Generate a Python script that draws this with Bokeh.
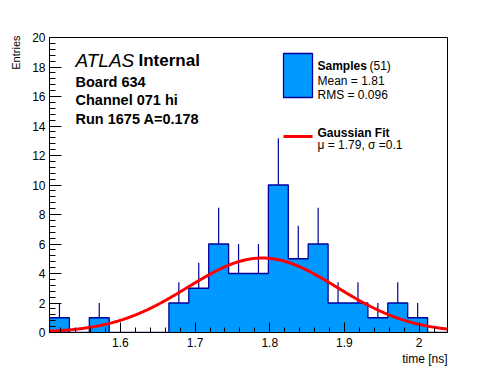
import numpy as np
from bokeh.plotting import figure
from bokeh.models import Range1d, SingleIntervalTicker, NumeralTickFormatter, Label, Title
from bokeh.embed import file_html
from bokeh.resources import INLINE

# ---------------- data ----------------
x_lo, x_hi = 1.505, 2.038          # histogram range (ns)
n_bins = 20
counts = [1, 0, 1, 0, 0, 0, 2, 3, 6, 4, 4, 10, 5, 6, 2, 2, 1, 2, 1, 0]
n_entries = 51
mean_txt = "1.81"
rms_txt = "0.096"
fit_mu = 1.79
fit_sigma = 0.1
fit_amp = 5.05
y_lo, y_hi = 0, 20

info_lines = ["Board 634", "Channel 071 hi", "Run 1675 A=0.178"]

# ---------------- styling ----------------
FONT = "Liberation Sans"
FILL = "#0099ff"
EDGE = "#000099"

W, H = 496, 372
BL, BR, BT, BB = 49, 49, 37, 40
FW, FH = W - BL - BR, H - BT - BB

p = figure(width=W, height=H, x_range=Range1d(x_lo, x_hi), y_range=Range1d(y_lo, y_hi),
           output_backend="svg", toolbar_location=None,
           min_border_left=BL, min_border_right=BR, min_border_top=BT, min_border_bottom=BB)
p.xgrid.visible = False
p.ygrid.visible = False
p.outline_line_color = "black"
p.outline_line_width = 1
p.background_fill_color = "white"
p.border_fill_color = "white"

# axes
xa = p.xaxis[0]
xa.ticker = SingleIntervalTicker(interval=0.1, num_minor_ticks=5)
xa.formatter = NumeralTickFormatter(format="0.[0]")
xa.major_tick_in = 10
xa.major_tick_out = 0
xa.minor_tick_in = 5
xa.minor_tick_out = 0
xa.major_label_standoff = 5
ya = p.yaxis[0]
ya.ticker = SingleIntervalTicker(interval=2, num_minor_ticks=5)
ya.major_tick_in = 12
ya.major_tick_out = 0
ya.minor_tick_in = 6
ya.minor_tick_out = 0
ya.major_label_standoff = 4
for ax in (xa, ya):
    ax.axis_line_color = "black"
    ax.major_tick_line_color = "black"
    ax.minor_tick_line_color = "black"
    ax.major_label_text_font = FONT
    ax.major_label_text_font_size = "12px"
    ax.major_label_text_color = "black"

# axis titles (right/top aligned like ROOT)
p.add_layout(Title(text="time [ns]", align="right", text_font=FONT, text_font_size="12px",
                   text_font_style="normal", text_color="black", standoff=0, offset=0), "below")
p.add_layout(Title(text="Entries", align="right", vertical_align="bottom", text_font=FONT,
                   text_font_size="11px", text_font_style="normal", text_color="black",
                   standoff=15, offset=-2), "left")

# histogram
edges = np.linspace(x_lo, x_hi, n_bins + 1)
c = np.array(counts, dtype=float)

sx = [edges[0]]
sy = [0.0]
for i in range(n_bins):
    sx += [edges[i], edges[i + 1]]
    sy += [c[i], c[i]]
sx.append(edges[-1])
sy.append(0.0)
p.patch(sx, sy, fill_color=FILL, line_color=None)

mask = c > 0
centers = 0.5 * (edges[:-1] + edges[1:])
p.segment(x0=centers[mask], y0=c[mask], x1=centers[mask], y1=c[mask] + np.sqrt(c[mask]),
          line_color=EDGE, line_width=1.2)

p.line(sx, sy, line_color=EDGE, line_width=1.3)

# gaussian fit curve
xx = np.linspace(x_lo, x_hi, 400)
yy = fit_amp * np.exp(-0.5 * ((xx - fit_mu) / fit_sigma) ** 2)
p.line(xx, yy, line_color="#ff0000", line_width=3)

# ---------------- annotations ----------------
def px_x(px):  # page pixel -> data x
    return x_lo + (px - BL) / FW * (x_hi - x_lo)

def px_y(py):  # page pixel -> data y
    return y_lo + (H - BB - py) / FH * (y_hi - y_lo)

def lab(text, x, y, size="12px", style="normal", align="left", angle=0.0):
    # x,y page pixels of anchor (baseline)
    p.add_layout(Label(x=x - BL, y=(H - BB) - y, x_units="screen", y_units="screen", text=text,
                       text_font=FONT, text_font_size=size, text_font_style=style,
                       text_align=align, text_baseline="alphabetic", angle=angle,
                       text_color="black"))

lab("ATLAS", 75, 60, size="19px", style="italic")
lab("Internal", 138, 60, size="17px", style="bold")
for i, t in enumerate(info_lines):
    lab(t, 75, 81 + 18.5 * i, size="14.5px", style="bold")

# legend
p.quad(left=px_x(283), right=px_x(312), top=px_y(53), bottom=px_y(97),
       fill_color=FILL, line_color=EDGE, line_width=1.3)
lab("Samples", 317, 65.7, size="12px", style="bold")
lab("(" + str(n_entries) + ")", 369, 65.7, size="12px")
lab("Mean = " + mean_txt, 317, 80, size="12px")
lab("RMS = " + rms_txt, 317, 94.3, size="12px")
p.line([px_x(283), px_x(312)], [px_y(136), px_y(136)], line_color="#ff0000", line_width=3)
lab("Gaussian Fit", 317, 132.7, size="12px", style="bold")
lab("\u03bc = " + str(fit_mu) + ", \u03c3 =" + str(fit_sigma), 317, 144.5, size="12px")

open("out.html", "w").write(file_html(p, INLINE))
